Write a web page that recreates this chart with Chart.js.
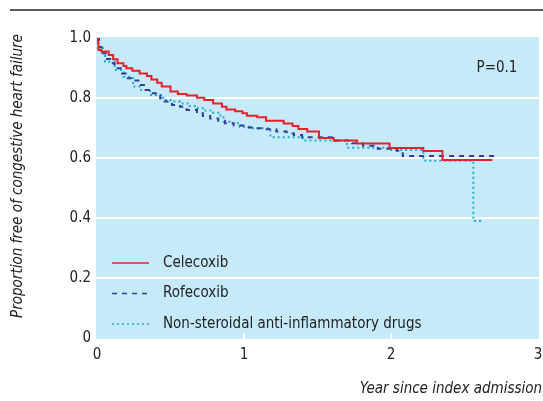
<!DOCTYPE html>
<html>
<head>
<meta charset="utf-8">
<script src="https://cdn.jsdelivr.net/npm/chart.js@4/dist/chart.umd.min.js"></script>
<style>
  html, body { margin: 0; padding: 0; background: #fff; }
  #wrap { width: 543px; height: 401px; position: relative; }
</style>
</head>
<body>
<div id="wrap"><canvas id="c" width="543" height="401"></canvas></div>
<script>
// ---- Data ----
const seriesLabels = ["Celecoxib", "Rofecoxib", "Non-steroidal anti-inflammatory drugs"];

const celecoxibTime = [0, 0.005, 0.01, 0.03, 0.08, 0.11, 0.14, 0.18, 0.20, 0.24, 0.29, 0.34, 0.37, 0.41, 0.44, 0.50, 0.55, 0.61, 0.68, 0.73, 0.79, 0.85, 0.88, 0.94, 0.99, 1.02, 1.09, 1.15, 1.27, 1.33, 1.37, 1.43, 1.51, 1.61, 1.77, 1.99, 2.22, 2.35, 2.69];
const celecoxibSurv = [1.0, 0.985, 0.96, 0.955, 0.943, 0.929, 0.916, 0.907, 0.899, 0.891, 0.882, 0.873, 0.862, 0.851, 0.838, 0.822, 0.813, 0.808, 0.801, 0.793, 0.782, 0.771, 0.762, 0.756, 0.749, 0.741, 0.736, 0.724, 0.715, 0.707, 0.697, 0.688, 0.667, 0.658, 0.648, 0.633, 0.623, 0.593, 0.593];

const rofecoxibTime = [0, 0.014, 0.03, 0.06, 0.09, 0.12, 0.17, 0.21, 0.245, 0.29, 0.33, 0.37, 0.43, 0.46, 0.51, 0.565, 0.61, 0.68, 0.72, 0.77, 0.825, 0.87, 0.93, 0.995, 1.063, 1.13, 1.22, 1.29, 1.34, 1.395, 1.62, 1.735, 1.81, 1.91, 2.04, 2.08, 2.73];
const rofecoxibSurv = [1.0, 0.97, 0.949, 0.93, 0.916, 0.899, 0.882, 0.866, 0.858, 0.843, 0.827, 0.816, 0.799, 0.788, 0.777, 0.771, 0.76, 0.749, 0.74, 0.732, 0.724, 0.716, 0.708, 0.702, 0.699, 0.696, 0.688, 0.682, 0.677, 0.669, 0.658, 0.649, 0.641, 0.631, 0.624, 0.607, 0.607];

const nsaidTime = [0, 0.007, 0.04, 0.054, 0.12, 0.18, 0.245, 0.29, 0.36, 0.45, 0.50, 0.565, 0.63, 0.68, 0.72, 0.79, 0.84, 0.86, 0.905, 0.97, 1.06, 1.18, 1.40, 1.70, 1.99, 2.22, 2.56, 2.62];
const nsaidSurv = [1.0, 0.967, 0.943, 0.921, 0.893, 0.871, 0.838, 0.827, 0.81, 0.793, 0.788, 0.782, 0.773, 0.766, 0.758, 0.751, 0.736, 0.721, 0.716, 0.704, 0.699, 0.669, 0.658, 0.634, 0.627, 0.591, 0.39, 0.39];

const yTicks = [0, 0.2, 0.4, 0.6, 0.8, 1.0];
const yTickLabels = ["0", "0.2", "0.4", "0.6", "0.8", "1.0"];
const xTicks = [0, 1, 2, 3];
const xTickLabels = ["0", "1", "2", "3"];

const xTitle = "Year since index admission";
const yTitle = "Proportion free of congestive heart failure";
const pText = "P=0.1";

// ---- Styles ----
const FONT = '"Liberation Sans Narrow", "DejaVu Sans Condensed", "Arial Narrow", Arial, sans-serif';
const BG = "#c6eaf9";
const colors = ["#e8202a", "#343c96", "#1fb0c9"];
const dashes = [[], [5, 5], [2, 3]];

function pts(t, s) { return t.map((x, i) => ({ x: x, y: s[i] })); }

const decor = {
  id: "decor",
  beforeDraw(chart) {
    const { ctx, chartArea: a } = chart;
    ctx.save();
    ctx.fillStyle = BG;
    ctx.fillRect(a.left - 1, a.top - 1, a.right - a.left + 2, a.bottom - a.top + 2);
    const ys = chart.scales.y;
    ctx.strokeStyle = "#ffffff";
    ctx.lineWidth = 2;
    yTicks.forEach(v => {
      if (v <= 0 || v >= 1) return;
      const py = Math.round(ys.getPixelForValue(v));
      ctx.beginPath(); ctx.moveTo(a.left - 1, py); ctx.lineTo(a.right + 1, py); ctx.stroke();
    });
    const xs = chart.scales.x;
    xTicks.forEach(v => {
      if (v <= 0 || v >= 3) return;
      const px = Math.round(xs.getPixelForValue(v));
      ctx.beginPath(); ctx.moveTo(px, a.bottom + 1); ctx.lineTo(px, a.bottom - 5); ctx.stroke();
    });
    ctx.strokeStyle = "#222";
    ctx.lineWidth = 1.5;
    ctx.beginPath(); ctx.moveTo(10, 10); ctx.lineTo(543, 10); ctx.stroke();
    ctx.restore();
  },
  afterDraw(chart) {
    const { ctx } = chart;
    ctx.save();
    ctx.fillStyle = "#222";
    ctx.textBaseline = "middle";
    chart.data.datasets.forEach((ds, i) => {
      const y = 263 + i * 30.5;
      ctx.strokeStyle = ds.borderColor;
      ctx.lineWidth = 1.5;
      ctx.setLineDash(ds.borderDash || []);
      ctx.beginPath(); ctx.moveTo(112, y); ctx.lineTo(149, y); ctx.stroke();
      ctx.setLineDash([]);
      ctx.font = "15px " + FONT;
      ctx.textAlign = "left";
      ctx.fillText(ds.label, 163, y);
    });
    ctx.font = "15px " + FONT;
    ctx.textAlign = "center";
    ctx.fillText(pText, 497, 68);
    ctx.font = "italic 15px " + FONT;
    ctx.textAlign = "right";
    ctx.fillText(xTitle, 542, 389);
    ctx.translate(18, 176);
    ctx.rotate(-Math.PI / 2);
    ctx.textAlign = "center";
    ctx.fillText(yTitle, 0, 0);
    ctx.restore();
  }
};

const datasets = [
  [celecoxibTime, celecoxibSurv],
  [rofecoxibTime, rofecoxibSurv],
  [nsaidTime, nsaidSurv]
].map((d, i) => ({
  label: seriesLabels[i],
  data: pts(d[0], d[1]),
  borderColor: colors[i],
  borderDash: dashes[i],
  borderWidth: 2,
  borderCapStyle: "butt",
  stepped: "before",
  pointRadius: 0,
  fill: false,
  tension: 0
}));

new Chart(document.getElementById("c"), {
  type: "line",
  data: { datasets: datasets },
  plugins: [decor],
  options: {
    responsive: false,
    animation: false,
    devicePixelRatio: 1,
    layout: { padding: { left: 0, right: 5, top: 38, bottom: 0 } },
    plugins: { legend: { display: false }, tooltip: { enabled: false } },
    scales: {
      x: {
        type: "linear", min: 0, max: 3,
        grid: { display: false, drawTicks: false },
        border: { display: false },
        afterBuildTicks: s => { s.ticks = xTicks.map(v => ({ value: v })); },
        afterFit: s => { s.height = 63; s.paddingLeft = 0; s.paddingRight = 0; },
        ticks: {
          color: "#222", padding: 8,
          font: { family: FONT, size: 15 },
          callback: (v) => xTickLabels[xTicks.indexOf(v)] ?? "",
          maxRotation: 0, autoSkip: false
        }
      },
      y: {
        type: "linear", min: 0, max: 1,
        grid: { display: false, drawTicks: false },
        border: { display: false },
        afterBuildTicks: s => { s.ticks = yTicks.map(v => ({ value: v })); },
        afterFit: s => { s.width = 97; s.paddingTop = 0; s.paddingBottom = 0; },
        ticks: {
          color: "#222", padding: 6,
          font: { family: FONT, size: 15 },
          callback: (v) => { const k = yTicks.findIndex(t => Math.abs(t - v) < 1e-9); return k >= 0 ? yTickLabels[k] : ""; }
        }
      }
    }
  }
});
</script>
</body>
</html>
